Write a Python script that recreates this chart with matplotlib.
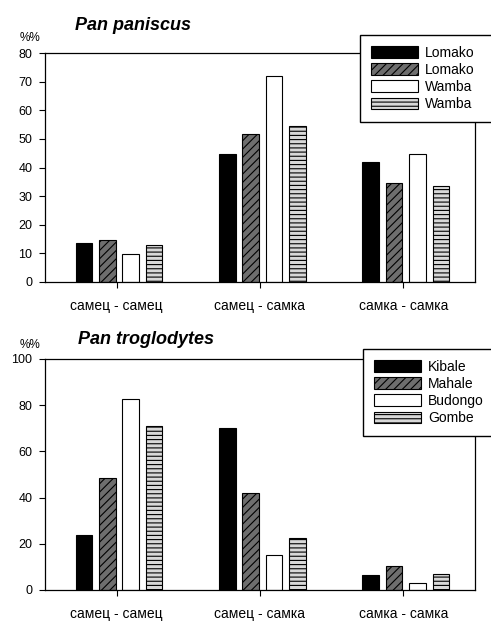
import matplotlib
matplotlib.use("Agg")
import matplotlib.pyplot as plt
import numpy as np
from matplotlib.patches import Patch

plt.rcParams['font.family'] = ['Liberation Sans', 'DejaVu Sans']
plt.rcParams['hatch.linewidth'] = 0.8

categories = ["самец - самец", "самец - самка", "самка - самка"]

top_title = "Pan paniscus"
top_series = ["Lomako", "Lomako", "Wamba", "Wamba"]
top_values = [
    [13.7, 44.8, 41.9],
    [14.6, 51.8, 34.6],
    [9.9, 71.8, 44.6],
    [12.8, 54.6, 33.6],
]
top_yticks = [0, 10, 20, 30, 40, 50, 60, 70, 80]

bot_title = "Pan troglodytes"
bot_series = ["Kibale", "Mahale", "Budongo", "Gombe"]
bot_values = [
    [24.0, 70.1, 6.5],
    [48.7, 41.9, 10.5],
    [82.7, 15.3, 2.9],
    [70.8, 22.5, 7.0],
]
bot_yticks = [0, 20, 40, 60, 80, 100]

styles = [
    dict(facecolor="black", hatch=None),
    dict(facecolor="#6e6e6e", hatch="////"),
    dict(facecolor="white", hatch=None),
    dict(facecolor="#d8d8d8", hatch="----"),
]

fig = plt.figure(figsize=(4.91, 6.22), dpi=100)

def panel(rect, title, series, values, yticks, ymax, legend_anchor, title_xy, pct_xy):
    ax = fig.add_axes(rect)
    x = np.arange(len(categories))
    step = 0.163
    w = 0.116
    offs = (np.arange(4) - 1.5) * step + 0.017
    for i, vals in enumerate(values):
        st = styles[i]
        ax.bar(x + offs[i], vals, width=w, facecolor=st["facecolor"],
               edgecolor="black", linewidth=0.8, hatch=st["hatch"])
    ax.set_xlim(-0.5, 2.5)
    ax.set_ylim(0, ymax)
    ax.set_yticks(yticks)
    ax.set_xticks(x)
    ax.set_xticklabels(categories, fontsize=10)
    ax.tick_params(axis="y", labelsize=9, length=4, width=0.8, direction="out", pad=5)
    ax.tick_params(axis="x", length=4, width=0.8, direction="out", pad=8)
    for s in ax.spines.values():
        s.set_linewidth(0.9)
    fig.text(title_xy[0], title_xy[1], title, fontsize=13, fontweight="bold",
             fontstyle="italic", ha="left", va="center")
    fig.text(pct_xy[0], pct_xy[1], "%%", fontsize=8.5, ha="left", va="center")
    handles = [Patch(facecolor=styles[i]["facecolor"], edgecolor="black",
                     hatch=styles[i]["hatch"], linewidth=0.8, label=series[i])
               for i in range(4)]
    leg = fig.legend(handles=handles, loc="upper left",
                     bbox_to_anchor=(legend_anchor[0], legend_anchor[1], 150/491, 0),
                     mode="expand",
                     fontsize=10, frameon=True, fancybox=False, framealpha=1.0,
                     handlelength=3.4, handleheight=0.95, handletextpad=0.5,
                     labelspacing=0.22, borderpad=0.8, borderaxespad=0.0)
    leg.get_frame().set_edgecolor("black")
    leg.get_frame().set_linewidth(1.0)
    leg.set_zorder(10)
    return ax

panel([45/491, 1-282/622, 430/491, 229/622], top_title, top_series, top_values,
      top_yticks, 80, (360/491, 1-35/622), (75/491, 1-25/622), (20/491, 1-38/622))
panel([45/491, 1-590/622, 430/491, 231/622], bot_title, bot_series, bot_values,
      bot_yticks, 100, (363/491, 1-349/622), (78/491, 1-340/622), (20/491, 1-345/622))

fig.savefig("out.png", dpi=100)
